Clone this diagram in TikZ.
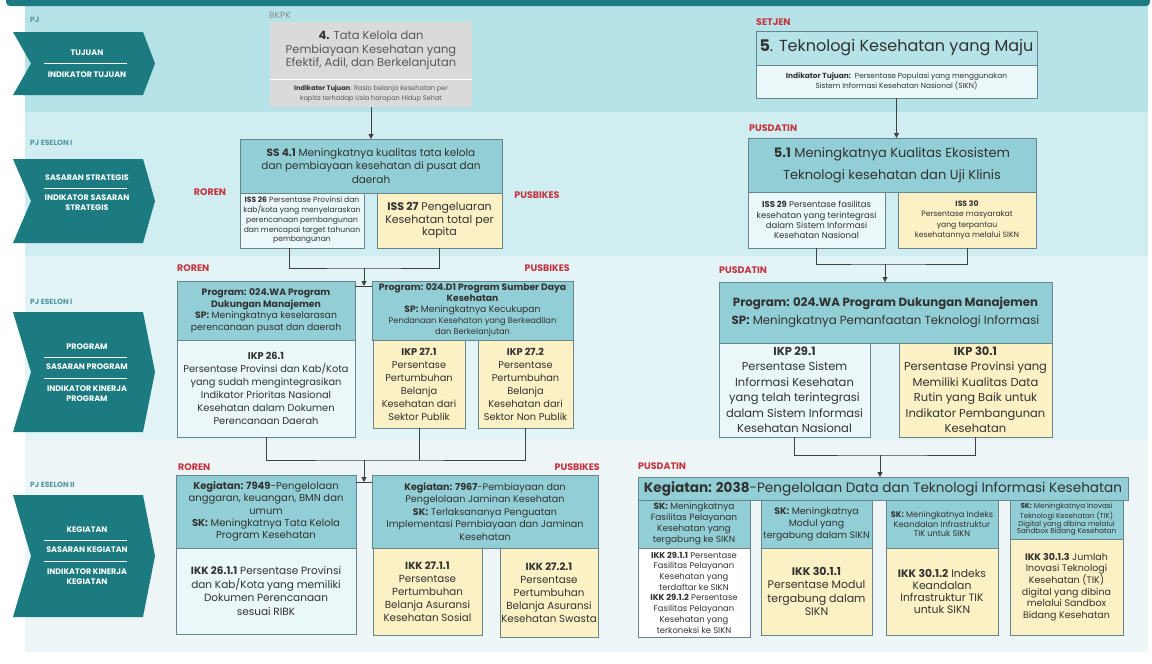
\documentclass[tikz,border=0pt]{standalone}
\usepackage{fontspec}
\setmainfont{Poppins}
\usetikzlibrary{arrows.meta}
\definecolor{tealdark}{RGB}{27,123,129}
\definecolor{bandA}{RGB}{182,227,231}
\definecolor{bandB}{RGB}{208,238,241}
\definecolor{bandC}{RGB}{226,244,246}
\definecolor{bandD}{RGB}{237,245,247}
\definecolor{headfill}{RGB}{146,206,213}
\definecolor{lightfill}{RGB}{234,248,250}
\definecolor{yelfill}{RGB}{251,241,196}
\definecolor{edge}{RGB}{104,132,140}
\definecolor{pjred}{RGB}{196,50,62}
\definecolor{pjteal}{RGB}{84,150,163}
\definecolor{txt}{RGB}{50,50,50}
\definecolor{greybox}{RGB}{218,218,218}
\definecolor{greytxt}{RGB}{88,88,88}
\newcommand\fs[2]{\fontsize{#1}{#2}\selectfont}
% \boxnode{style}{name}{x1}{y1}{x2}{y2}{text}
\newcommand\boxnode[7]{\node[#1, minimum width=#5pt-#3pt, minimum height=#6pt-#4pt] (#2) at (#3,#4) {#7};}
\begin{document}
\begin{tikzpicture}[x=1pt,y=-1pt,
  box/.style={draw=edge, line width=0.8pt, inner sep=0.5pt, outer sep=0pt, align=center, text=txt, anchor=north west},
  headbox/.style={box, fill=headfill},
  litebox/.style={box, fill=lightfill},
  yelbox/.style={box, fill=yelfill},
  greyb/.style={box, draw=none, fill=greybox, text=greytxt},
  unit/.style={text=pjred, font=\bfseries\fs{9.5}{11}, inner sep=0pt},
  pjlab/.style={text=pjteal, font=\bfseries\fs{7.5}{9}, anchor=west, inner sep=0pt},
  chevtext/.style={text=white, font=\bfseries\fs{8}{10}, align=center, inner sep=0pt},
  chevrule/.style={draw=white, line width=1pt},
  link/.style={draw=black!75, line width=0.8pt},
  arr/.style={link, -{Triangle[length=5pt,width=5pt]}}]
\useasboundingbox (0,0) rectangle (1152,664);
\fill[white] (0,0) rectangle (1152,664);

% background bands
\fill[bandD, rounded corners=3pt] (25,430) rectangle (1148,652);
\fill[bandC] (25,256) rectangle (1148,440);
\fill[bandB] (25,112) rectangle (1148,256);
\fill[bandA] (25,4) rectangle (1148,112);
\fill[tealdark, rounded corners=4pt] (6,-8) rectangle (1150,6);

% row captions
\node[pjlab] (pj1) at (30,20) {PJ};
\node[pjlab] (pj2) at (30,143) {PJ ESELON I};
\node[pjlab] (pj3) at (30,302) {PJ ESELON I};
\node[pjlab] (pj4) at (30,485) {PJ ESELON II};

% chevrons
\fill[tealdark] (13,32) -- (143,32) -- (155,63.5) -- (143,95) -- (13,95) -- (31,63.5) -- cycle;
\node[chevtext] (c1a) at (87,53) {TUJUAN};
\draw[chevrule] (44,63.5) -- (127,63.5);
\node[chevtext] (c1b) at (87,75) {INDIKATOR TUJUAN};

\fill[tealdark] (13,159) -- (143,159) -- (155,201) -- (143,243) -- (13,243) -- (31,201) -- cycle;
\node[chevtext] (c2a) at (87,178) {SASARAN STRATEGIS};
\draw[chevrule] (44,188) -- (127,188);
\node[chevtext] (c2b) at (87,203) {INDIKATOR SASARAN\\STRATEGIS};

\fill[tealdark] (13,312) -- (143,312) -- (155,372) -- (143,432) -- (13,432) -- (31,372) -- cycle;
\node[chevtext] (c3a) at (87,347) {PROGRAM};
\draw[chevrule] (44,357) -- (127,357);
\node[chevtext] (c3b) at (87,367) {SASARAN PROGRAM};
\draw[chevrule] (44,378) -- (127,378);
\node[chevtext] (c3c) at (87,394) {INDIKATOR KINERJA\\PROGRAM};

\fill[tealdark] (13,495) -- (143,495) -- (155,556) -- (143,617) -- (13,617) -- (31,556) -- cycle;
\node[chevtext] (c4a) at (87,530) {KEGIATAN};
\draw[chevrule] (44,540) -- (127,540);
\node[chevtext] (c4b) at (87,550) {SASARAN KEGIATAN};
\draw[chevrule] (44,561) -- (127,561);
\node[chevtext] (c4c) at (87,577) {INDIKATOR KINERJA\\KEGIATAN};

% ---------- goals ----------
\node[text=black!45, font=\fs{9}{10}, anchor=west, inner sep=0pt] (ubkpk) at (269,15) {BKPK};
\boxnode{greyb, font=\fs{11.5}{13.5}}{g4}{270}{22}{472}{79}{\textbf{\color{txt}4.} Tata Kelola dan\\Pembiayaan Kesehatan yang\\Efektif, Adil, dan Berkelanjutan}
\boxnode{greyb, font=\fs{6.6}{9.5}}{g4i}{270}{80}{472}{107}{\textbf{\color{txt}Indikator Tujuan}: Rasio belanja kesehatan per\\kapita terhadap Usia harapan Hidup Sehat}
\draw[white, line width=1pt] (g4.south west) -- (g4.south east);

\node[unit, anchor=west] (usetjen) at (756,22) {SETJEN};
\boxnode{box, fill=bandA, font=\fs{16}{18}}{g5}{756}{31}{1037}{65}{\textbf{5}. Teknologi Kesehatan yang Maju}
\boxnode{box, fill=lightfill, font=\fs{7.4}{10}}{g5i}{756}{65}{1037}{98}{\textbf{Indikator Tujuan:}\ \ Persentase Populasi yang menggunakan\\Sistem Informasi Kesehatan Nasional (SIKN)}

% ---------- strategic targets ----------
\node[unit] (uss1) at (210,192) {ROREN};
\node[unit] (uss2) at (537,195) {PUSBIKES};
\boxnode{headbox, font=\fs{10.5}{13.3}}{ss41}{240}{139}{502}{193}{\textbf{SS 4.1} Meningkatnya kualitas tata kelola\\dan pembiayaan kesehatan di pusat dan\\daerah}
\boxnode{litebox, font=\fs{7.6}{9.8}}{iss26}{240}{193}{364}{248}{\textbf{ISS 26} Persentase Provinsi dan\\kab/kota yang menyelaraskan\\perencanaan pembangunan\\dan mencapai target tahunan\\pembangunan}
\boxnode{yelbox, font=\fs{11}{12.8}}{iss27}{377}{193}{502}{248}{\textbf{ISS 27} Pengeluaran\\Kesehatan total per\\kapita}

\node[unit, anchor=west] (uss3) at (749,128) {PUSDATIN};
\boxnode{headbox, font=\fs{13}{22}}{ss51}{748}{138}{1036}{192}{\textbf{5.1} Meningkatnya Kualitas Ekosistem\\Teknologi kesehatan dan Uji Klinis}
\boxnode{litebox, font=\fs{8.5}{10.3}}{iss29}{748}{192}{885}{248}{\textbf{ISS 29} Persentase fasilitas\\kesehatan yang terintegrasi\\dalam Sistem Informasi\\Kesehatan Nasional}
\boxnode{yelbox, font=\fs{7.7}{10.3}}{iss30}{898}{192}{1036}{248}{\textbf{ISS 30}\\Persentase masyarakat\\yang terpantau\\kesehatannya melalui SIKN}

% ---------- programmes ----------
\node[unit, anchor=west] (up1) at (177,268) {ROREN};
\node[unit, anchor=east] (up2) at (570,268) {PUSBIKES};
\boxnode{headbox, font=\fs{9.3}{11.5}}{progL}{177}{281}{355}{340}{\textbf{Program: 024.WA Program}\\\textbf{Dukungan Manajemen}\\\textbf{SP:} Meningkatnya keselarasan\\perencanaan pusat dan daerah}
\boxnode{litebox, font=\fs{9.8}{13}}{ikp261}{177}{340}{355}{437}{\textbf{IKP 26.1}\\Persentase Provinsi dan Kab/Kota\\yang sudah mengintegrasikan\\Indikator Prioritas Nasional\\Kesehatan dalam Dokumen\\Perencanaan Daerah}
\boxnode{headbox, font=\fs{9.2}{11}}{progM}{372}{281}{573}{340}{\textbf{Program: 024.D1 Program Sumber Daya}\\\textbf{Kesehatan}\\\textbf{SP:} Meningkatnya Kecukupan\\{\fs{8.2}{11}Pendanaan Kesehatan yang Berkeadilan}\\{\fs{8.2}{11}dan Berkelanjutan}}
\boxnode{yelbox, font=\fs{9.8}{13}}{ikp271}{373}{340}{465}{428}{\textbf{IKP 27.1}\\Persentase\\Pertumbuhan\\Belanja\\Kesehatan dari\\Sektor Publik}
\boxnode{yelbox, font=\fs{9.8}{13}}{ikp272}{478}{340}{573}{428}{\textbf{IKP 27.2}\\Persentase\\Pertumbuhan\\Belanja\\Kesehatan dari\\Sektor Non Publik}

\node[unit, anchor=west] (up3) at (719,270) {PUSDATIN};
\boxnode{headbox, font=\fs{11.8}{17.5}}{progR}{719}{282}{1052}{343}{\textbf{Program: 024.WA Program Dukungan Manajemen}\\\textbf{SP:} Meningkatnya Pemanfaatan Teknologi Informasi}
\boxnode{litebox, font=\fs{11.5}{15.5}}{ikp291}{719}{343}{870}{437}{\textbf{IKP 29.1}\\Persentase Sistem\\Informasi Kesehatan\\yang telah terintegrasi\\dalam Sistem Informasi\\Kesehatan Nasional}
\boxnode{yelbox, font=\fs{11.5}{15.5}}{ikp301}{899}{343}{1052}{437}{\textbf{IKP 30.1}\\Persentase Provinsi yang\\Memiliki Kualitas Data\\Rutin yang Baik untuk\\Indikator Pembangunan\\Kesehatan}

% ---------- activities ----------
\node[unit, anchor=west] (uk1) at (178,467) {ROREN};
\node[unit, anchor=east] (uk2) at (600,467) {PUSBIKES};
\boxnode{headbox, font=\fs{10}{12.4}}{kegL}{176}{475}{356}{548}{\textbf{Kegiatan: 7949}-Pengelolaan\\anggaran, keuangan, BMN dan\\umum\\\textbf{SK:} Meningkatnya Tata Kelola\\Program Kesehatan}
\boxnode{litebox, font=\fs{10.5}{13.5}}{ikk2611}{176}{548}{356}{634}{\textbf{IKK 26.1.1} Persentase Provinsi\\dan Kab/Kota yang memiliki\\Dokumen Perencanaan\\sesuai RIBK}
\boxnode{headbox, font=\fs{9.6}{12.4}}{kegM}{372}{475}{598}{548}{\textbf{Kegiatan: 7967}-Pembiayaan dan\\Pengelolaan Jaminan Kesehatan\\\textbf{SK:} Terlaksananya Penguatan\\Implementasi Pembiayaan dan Jaminan\\Kesehatan}
\boxnode{yelbox, font=\fs{10.3}{13}}{ikk2711}{373}{548}{482}{635}{\textbf{IKK 27.1.1}\\Persentase\\Pertumbuhan\\Belanja Asuransi\\Kesehatan Sosial}
\boxnode{yelbox, font=\fs{10.3}{13}}{ikk2721}{500}{548}{598}{637}{\textbf{IKK 27.2.1}\\Persentase\\Pertumbuhan\\Belanja Asuransi\\Kesehatan Swasta}

\node[unit, anchor=west] (uk3) at (638,466) {PUSDATIN};
\boxnode{headbox, font=\fs{13.6}{15}}{kegR}{638}{477}{1128}{500}{\textbf{Kegiatan: 2038}-Pengelolaan Data dan Teknologi Informasi Kesehatan}
\boxnode{headbox, font=\fs{9}{11}}{sk1}{638}{500}{750}{548}{\textbf{SK:} Meningkatnya\\Fasilitas Pelayanan\\Kesehatan yang\\tergabung ke SIKN}
\boxnode{box, fill=white, font=\fs{8.4}{10.7}}{ikk291}{638}{548}{750}{637}{\textbf{IKK 29.1.1} Persentase\\Fasilitas Pelayanan\\Kesehatan yang\\terdaftar ke SIKN\\\textbf{IKK 29.1.2} Persentase\\Fasilitas Pelayanan\\Kesehatan yang\\terkoneksi ke SIKN}
\boxnode{headbox, font=\fs{9.4}{12}}{sk2}{761}{500}{872}{548}{\textbf{SK:} Meningkatnya\\Modul yang\\tergabung dalam SIKN}
\boxnode{yelbox, font=\fs{11}{13.5}}{ikk3011}{761}{548}{872}{635}{\textbf{IKK 30.1.1}\\Persentase Modul\\tergabung dalam\\SIKN}
\boxnode{headbox, font=\fs{8.2}{9.2}}{sk3}{886}{500}{998}{548}{\textbf{SK:} Meningkatnya Indeks\\Keandalan Infrastruktur\\TIK untuk SIKN}
\boxnode{yelbox, font=\fs{10.8}{11.8}}{ikk3012}{886}{548}{998}{635}{\textbf{IKK 30.1.2} Indeks\\Keandalan\\Infrastruktur TIK\\untuk SIKN}
\boxnode{headbox, font=\fs{7.2}{7.6}}{sk4}{1010}{500}{1123}{539}{\textbf{SK:} Meningkatnya Inovasi\\Teknologi Kesehatan (TIK)\\Digital yang dibina melalui\\Sandbox Bidang Kesehatan}
\boxnode{yelbox, font=\fs{9.5}{11.6}}{ikk3013}{1010}{539}{1123}{635}{\textbf{IKK 30.1.3} Jumlah\\Inovasi Teknologi\\Kesehatan (TIK)\\digital yang dibina\\melalui Sandbox\\Bidang Kesehatan}

% ---------- connectors ----------
\draw[arr] (g4i.south) -- (ss41.north);
\draw[arr] (g5i.south) -- (g5i.south |- ss51.north);

\coordinate (j1) at (364,268);
\coordinate (t1) at (364,286);
\draw[link] ([xshift=-13pt]iss26.south) |- (j1) -| (iss27.south);
\draw[arr] (j1) -- (t1);
\draw[link] (t1 -| progL.east) -- (t1 -| progM.west);

\coordinate (j2) at (364,460);
\coordinate (t2) at (364,482);
\draw[link] (ikp261.south) |- (j2) -| (ikp272.south);
\draw[link] (ikp271.south) -- (ikp271.south |- j2);
\draw[arr] (j2) -- (t2);
\draw[link] (t2 -| kegL.east) -- (t2 -| kegM.west);

\coordinate (j3) at (885,264);
\draw[link] (iss29.south) |- (j3) -| (iss30.south);
\draw[arr] (j3) -- (j3 |- progR.north);

\coordinate (j4) at (880,455);
\draw[link] (ikp291.south) |- (j4) -| (ikp301.south);
\draw[arr] (j4) -- (j4 |- kegR.north);
\end{tikzpicture}
\end{document}
